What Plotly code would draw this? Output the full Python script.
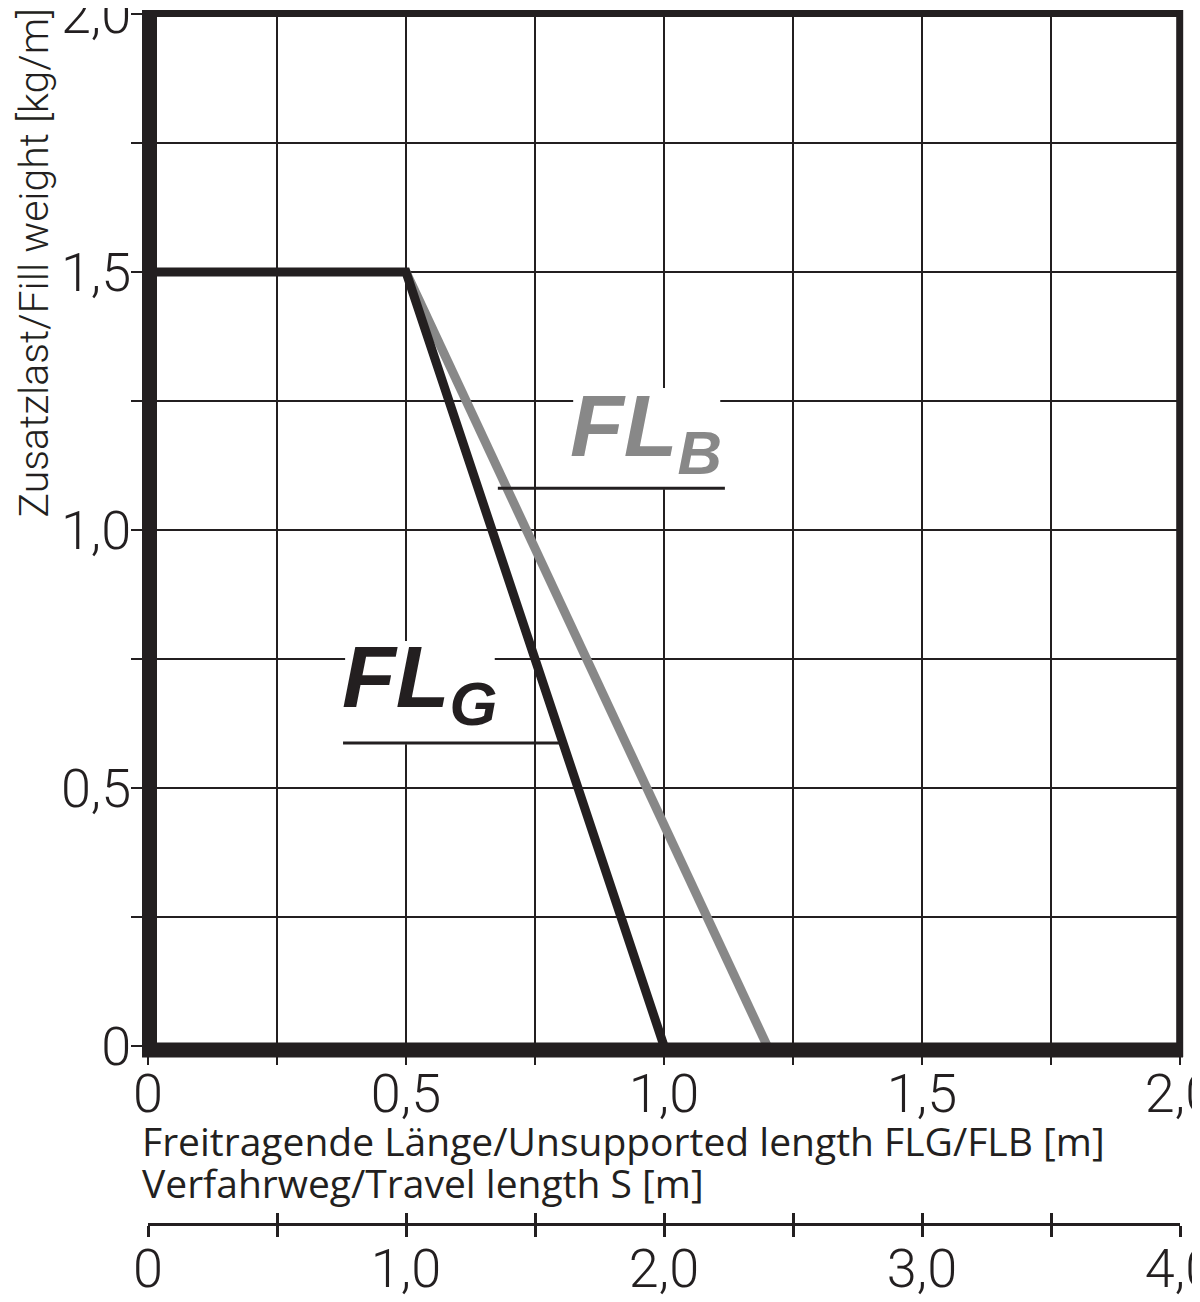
import plotly.graph_objects as go

# Werte
flg_x = [0.0, 0.5, 1.0]
flg_y = [1.5, 1.5, 0.0]
flb_x = [0.5, 1.2]
flb_y = [1.5, 0.0]

x_ticks = [0, 0.25, 0.5, 0.75, 1.0, 1.25, 1.5, 1.75, 2.0]
x_labels = ['0', '', '0,5', '', '1,0', '', '1,5', '', '2,0']
y_ticks = [0, 0.25, 0.5, 0.75, 1.0, 1.25, 1.5, 1.75, 2.0]
y_labels = ['0', '', '0,5', '', '1,0', '', '1,5', '', '2,0']
s_ticks = [0, 0.5, 1.0, 1.5, 2.0, 2.5, 3.0, 3.5, 4.0]
s_labels = ['0', '', '1,0', '', '2,0', '', '3,0', '', '4,0']

BLACK = '#231f20'
GREY = '#888888'
W, H = 1200, 1302
OFF = 8  # Seitenrand des Browsers


def px(p):
    return (p - OFF) / W


def py(p):
    return (H - (p - OFF)) / H


num_font = dict(family='Roboto', size=54, color=BLACK, weight=300)
txt_font = dict(family='Open Sans', size=39, color=BLACK)

fig = go.Figure()
fig.add_trace(go.Scatter(x=flb_x, y=flb_y, mode='lines',
                         line=dict(color=GREY, width=9), hoverinfo='skip'))
fig.add_trace(go.Scatter(x=flg_x, y=flg_y, mode='lines',
                         line=dict(color=BLACK, width=9), hoverinfo='skip'))
# unsichtbare Spuren, damit die Verfahrweg-Achse gezeichnet wird
for ax in ['x2', 'x3']:
    fig.add_trace(go.Scatter(x=[s_ticks[0], s_ticks[-1]], y=[0, 0], xaxis=ax, yaxis='y',
                             mode='lines', line=dict(width=0), opacity=0,
                             hoverinfo='skip'))

dom_x = [px(148), px(1180)]
dom_y = [py(1046), py(14)]
pos_s = py(1224)

fig.update_layout(
    width=W, height=H,
    margin=dict(l=0, r=0, t=0, b=0),
    paper_bgcolor='white', plot_bgcolor='white',
    showlegend=False,
    xaxis=dict(domain=dom_x, range=[0, 2], tickvals=x_ticks, ticktext=x_labels,
               showgrid=True, gridcolor=BLACK, gridwidth=2, zeroline=False,
               ticks='outside', ticklen=18, tickwidth=2, tickcolor=BLACK,
               tickfont=num_font, ticklabelstandoff=-18, anchor='y',
               automargin=False, ticklabeloverflow='allow'),
    yaxis=dict(domain=dom_y, range=[0, 2], tickvals=y_ticks, ticktext=y_labels,
               showgrid=True, gridcolor=BLACK, gridwidth=2, zeroline=False,
               ticks='outside', ticklen=16, tickwidth=2, tickcolor=BLACK,
               tickfont=num_font, ticklabelstandoff=-11, anchor='x',
               automargin=False, ticklabeloverflow='allow'),
    xaxis2=dict(domain=dom_x, range=[0, 4], tickvals=s_ticks, ticktext=s_labels,
                anchor='free', position=pos_s, overlaying='x',
                showgrid=False, zeroline=False, showline=True, linewidth=3,
                linecolor=BLACK, ticks='outside', ticklen=11, tickwidth=3,
                tickcolor=BLACK, tickfont=num_font, ticklabelstandoff=-15,
                automargin=False, ticklabeloverflow='allow'),
    xaxis3=dict(domain=dom_x, range=[0, 4], tickvals=s_ticks, showticklabels=False,
                anchor='free', position=pos_s, overlaying='x',
                showgrid=False, zeroline=False, showline=False,
                ticks='inside', ticklen=11, tickwidth=3, tickcolor=BLACK,
                automargin=False),
)

shapes = [
    # weisse Flaechen hinter den Beschriftungen
    dict(type='rect', xref='x', yref='y', x0=0.382, x1=0.672, y0=0.585, y1=0.785,
         fillcolor='white', line=dict(width=0), layer='between'),
    dict(type='rect', xref='x', yref='y', x0=0.824, x1=1.109, y0=1.079, y1=1.275,
         fillcolor='white', line=dict(width=0), layer='between'),
    # Unterstriche
    dict(type='line', xref='x', yref='y', x0=0.378, x1=0.798, y0=0.587, y1=0.587,
         line=dict(color=BLACK, width=3)),
    dict(type='line', xref='x', yref='y', x0=0.678, x1=1.118, y0=1.081, y1=1.081,
         line=dict(color=BLACK, width=3)),
    # Rahmen (in Seitenkoordinaten, damit nichts abgeschnitten wird)
    dict(type='line', xref='paper', yref='paper', x0=px(145), x1=px(1183),
         y0=py(13.5), y1=py(13.5), line=dict(color=BLACK, width=7)),
    dict(type='line', xref='paper', yref='paper', x0=px(1179.7), x1=px(1179.7),
         y0=py(1057), y1=py(10), line=dict(color=BLACK, width=7)),
    dict(type='line', xref='paper', yref='paper', x0=px(142), x1=px(1183),
         y0=py(1050), y1=py(1050), line=dict(color=BLACK, width=15)),
    dict(type='line', xref='paper', yref='paper', x0=px(149.5), x1=px(149.5),
         y0=py(1057), y1=py(10), line=dict(color=BLACK, width=15)),
]
fig.update_layout(shapes=shapes)

fig.add_annotation(text='<b><i>FL<sub>G</sub></i></b>', xref='x', yref='y',
                   x=0.372, y=0.704, xanchor='left', yanchor='middle', showarrow=False,
                   font=dict(family='Liberation Sans', size=88, color=BLACK))
fig.add_annotation(text='<b><i>FL<sub>B</sub></i></b>', xref='x', yref='y',
                   x=0.814, y=1.19, xanchor='left', yanchor='middle', showarrow=False,
                   font=dict(family='Liberation Sans', size=88, color=GREY))

fig.add_annotation(text='Freitragende Länge/Unsupported length FLG/FLB [m]',
                   xref='paper', yref='paper', x=px(140), y=py(1112),
                   xanchor='left', yanchor='top', showarrow=False, font=txt_font)
fig.add_annotation(text='Verfahrweg/Travel length S [m]',
                   xref='paper', yref='paper', x=px(140), y=py(1154),
                   xanchor='left', yanchor='top', showarrow=False, font=txt_font)
fig.add_annotation(text='Zusatzlast/Fill weight [kg/m]', textangle=-90,
                   xref='paper', yref='paper', x=0, y=1.0, borderpad=0,
                   xanchor='left', yanchor='top', showarrow=False,
                   font=dict(family='Roboto', size=41, color=BLACK, weight=300))

fig.write_html('out.html')
